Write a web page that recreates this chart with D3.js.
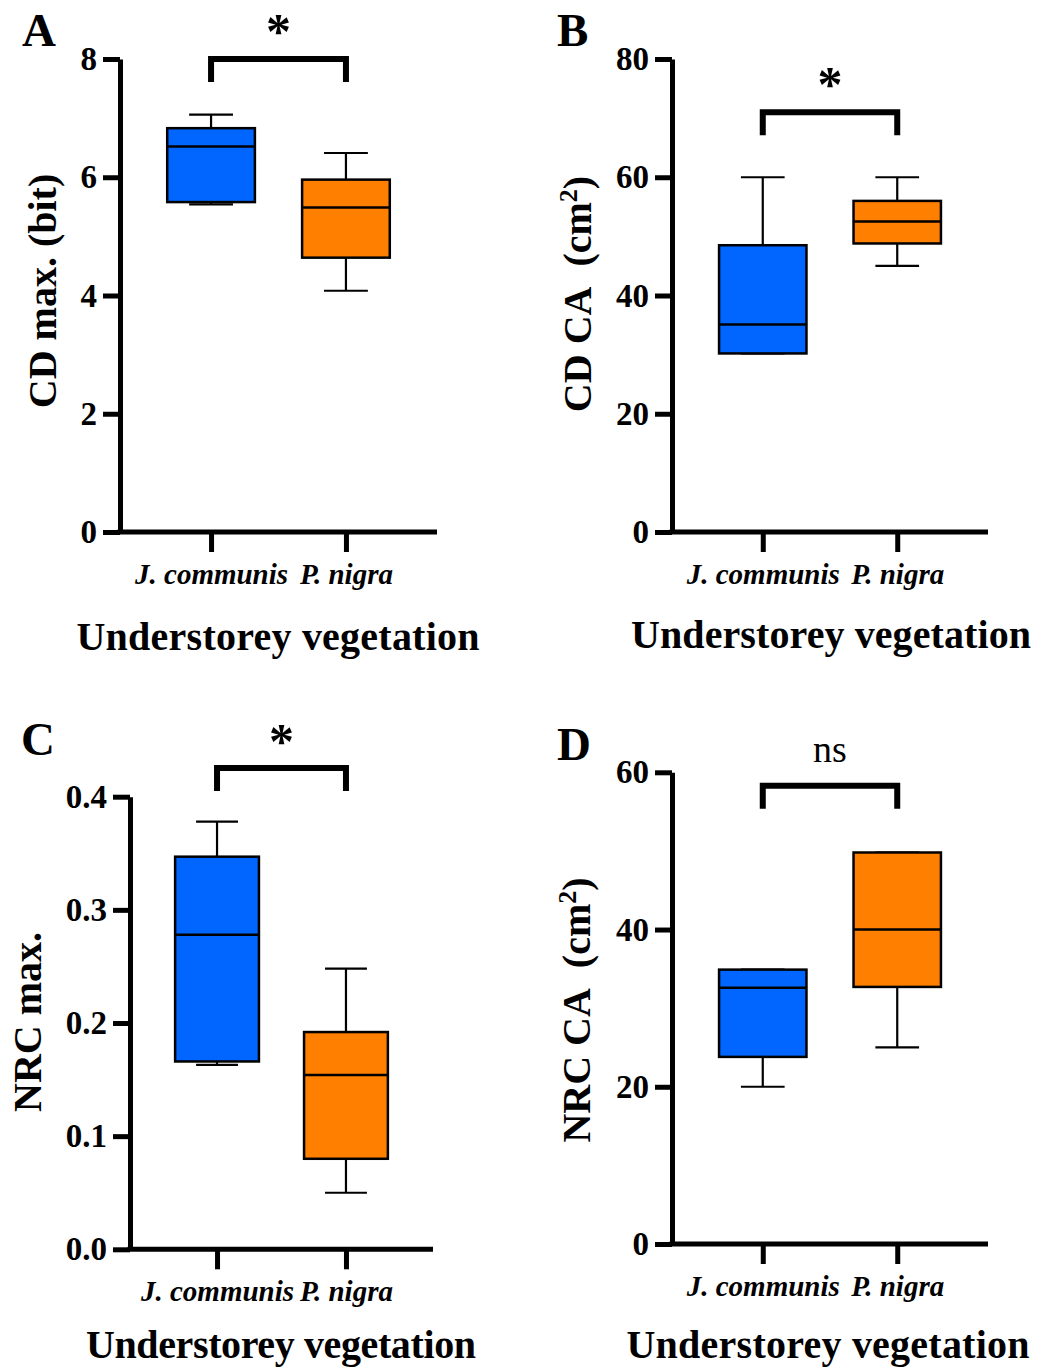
<!DOCTYPE html>
<html>
<head>
<meta charset="utf-8">
<script src="https://cdn.jsdelivr.net/npm/d3@7"></script>
<style>
  html, body { margin: 0; padding: 0; background: #fff; }
  svg { display: block; }
  text { font-family: "Liberation Serif", "Times New Roman", serif; }
</style>
</head>
<body>
<svg id="chart" width="1045" height="1369"></svg>
<script>
// ---------------- DATA ----------------
const categories = ["J. communis", "P. nigra"];
const seriesColors = ["#0066FF", "#FF8000"];

// five-number summaries per category: [min, q1, median, q3, max]
const cdMaxJ = [5.54, 5.58, 6.52, 6.83, 7.06];
const cdMaxP = [4.08, 4.64, 5.49, 5.96, 6.41];
const cdCaJ  = [30.2, 30.2, 35.1, 48.5, 60.0];
const cdCaP  = [45.0, 48.8, 52.5, 56.0, 60.0];
const nrcMaxJ = [0.163, 0.166, 0.278, 0.347, 0.378];
const nrcMaxP = [0.050, 0.080, 0.154, 0.192, 0.248];
const nrcCaJ = [20.0, 23.8, 32.6, 34.9, 34.9];
const nrcCaP = [25.0, 32.7, 40.0, 49.8, 49.8];

// y-axis tick labels
const ticksA = [0, 2, 4, 6, 8];
const ticksB = [0, 20, 40, 60, 80];
const ticksC = [0, 0.1, 0.2, 0.3, 0.4];
const ticksD = [0, 20, 40, 60];

const panelLetters = ["A", "B", "C", "D"];
const significance = ["*", "*", "*", "ns"];
const bracketLevels = [8.0, 71.0, 0.4254, 58.3];
const xTitle = "Understorey vegetation";

// ---------------- LAYOUT ----------------
const panels = [
  { letter: panelLetters[0], boxes: [cdMaxJ, cdMaxP], ticks: ticksA, fmt: d3.format("d"),
    yMax: 8, axisX: 120, axisEnd: 437, yTop: 59, yBottom: 532,
    letterPos: [22, 46], yLabel: [{t: "CD max. (bit)"}], yLabelPos: [56, 291], yLabelLen: 235,
    xTitlePos: [278, 650], xTitleLen: 403, sig: significance[0], sigY: 48, bracket: bracketLevels[0] },
  { letter: panelLetters[1], boxes: [cdCaJ, cdCaP], ticks: ticksB, fmt: d3.format("d"),
    yMax: 80, axisX: 672, axisEnd: 988, yTop: 59, yBottom: 532,
    letterPos: [557, 46], yLabel: [{t: "CD CA\u00a0\u00a0(cm"}, {t: "2", sup: true}, {t: ")"}], yLabelPos: [591, 294], yLabelLen: 228,
    xTitlePos: [831, 648], xTitleLen: 400, sig: significance[1], sigY: 101, bracket: bracketLevels[1] },
  { letter: panelLetters[2], boxes: [nrcMaxJ, nrcMaxP], ticks: ticksC, fmt: d3.format(".1f"),
    yMax: 0.4, axisX: 130, axisEnd: 433, yTop: 796.7, yBottom: 1249.3,
    letterPos: [21, 755], yLabel: [{t: "NRC max."}], yLabelPos: [41, 1022], yLabelLen: 165,
    xTitlePos: [281, 1358], xTitleLen: 390, sig: significance[2], sigY: 758, bracket: bracketLevels[2] },
  { letter: panelLetters[3], boxes: [nrcCaJ, nrcCaP], ticks: ticksD, fmt: d3.format("d"),
    yMax: 60, axisX: 672, axisEnd: 988, yTop: 772.3, yBottom: 1244,
    letterPos: [557, 760], yLabel: [{t: "NRC CA\u00a0\u00a0(cm"}, {t: "2", sup: true}, {t: ")"}], yLabelPos: [590, 1010], yLabelLen: 260,
    xTitlePos: [828, 1358], xTitleLen: 403, sig: significance[3], sigY: 762, bracket: bracketLevels[3] }
];

const svg = d3.select("#chart");

panels.forEach(p => {
  const g = svg.append("g");
  const y = d3.scaleLinear().domain([0, p.yMax]).range([p.yBottom, p.yTop]);
  const x = d3.scalePoint().domain(categories).range([p.axisX, p.axisEnd]).padding(0.675);
  const bw = x.step() * 0.65;

  // y axis
  const yAxis = d3.axisLeft(y).tickValues(p.ticks).tickFormat(p.fmt).tickSize(17).tickSizeOuter(0).tickPadding(6);
  const ya = g.append("g").attr("transform", `translate(${p.axisX},0)`).call(yAxis);
  ya.select(".domain").attr("stroke", "#000").attr("stroke-width", 5);
  ya.selectAll(".tick line").attr("stroke", "#000").attr("stroke-width", 5);
  ya.selectAll(".tick text").attr("fill", "#000").style("font-size", "33px").style("font-weight", "bold")
    .style("font-family", "'Liberation Serif', 'Times New Roman', serif");

  // x axis
  const xAxis = d3.axisBottom(x).tickSize(20).tickSizeOuter(0).tickPadding(11);
  const xa = g.append("g").attr("transform", `translate(0,${p.yBottom})`).call(xAxis);
  xa.select(".domain").attr("stroke", "#000").attr("stroke-width", 5).attr("d", `M${p.axisX - 2.5},0H${p.axisEnd}`);
  xa.selectAll(".tick line").attr("stroke", "#000").attr("stroke-width", 5);
  xa.selectAll(".tick text").attr("fill", "#000").style("font-size", "29px").style("font-weight", "bold")
    .style("font-style", "italic").style("font-family", "'Liberation Serif', 'Times New Roman', serif");

  // boxes
  p.boxes.forEach((s, i) => {
    const cx = x(categories[i]);
    const [mn, q1, md, q3, mx] = s;
    const bg = g.append("g");
    bg.append("line").attr("x1", cx).attr("x2", cx).attr("y1", y(q3)).attr("y2", y(mx))
      .attr("stroke", "#000").attr("stroke-width", 2.2);
    bg.append("line").attr("x1", cx).attr("x2", cx).attr("y1", y(q1)).attr("y2", y(mn))
      .attr("stroke", "#000").attr("stroke-width", 2.2);
    bg.append("line").attr("x1", cx - bw / 4).attr("x2", cx + bw / 4).attr("y1", y(mx)).attr("y2", y(mx))
      .attr("stroke", "#000").attr("stroke-width", 2.2);
    bg.append("line").attr("x1", cx - bw / 4).attr("x2", cx + bw / 4).attr("y1", y(mn)).attr("y2", y(mn))
      .attr("stroke", "#000").attr("stroke-width", 2.2);
    bg.append("rect").attr("x", cx - bw / 2).attr("width", bw)
      .attr("y", y(q3)).attr("height", y(q1) - y(q3))
      .attr("fill", seriesColors[i]).attr("stroke", "#000").attr("stroke-width", 2.5);
    bg.append("line").attr("x1", cx - bw / 2).attr("x2", cx + bw / 2).attr("y1", y(md)).attr("y2", y(md))
      .attr("stroke", "#000").attr("stroke-width", 2.5);
  });

  // significance bracket
  const bx1 = x(categories[0]), bx2 = x(categories[1]);
  const by = y(p.bracket);
  g.append("path")
    .attr("d", `M${bx1},${by + 23}V${by}H${bx2}V${by + 23}`)
    .attr("fill", "none").attr("stroke", "#000").attr("stroke-width", 6).attr("stroke-linejoin", "miter");
  const isStar = p.sig === "*";
  g.append("text").attr("x", (bx1 + bx2) / 2).attr("y", p.sigY)
    .attr("text-anchor", "middle")
    .style("font-size", isStar ? "50px" : "38px")
    .style("font-weight", isStar ? "bold" : "normal")
    .text(p.sig);

  // panel letter
  g.append("text").attr("x", p.letterPos[0]).attr("y", p.letterPos[1])
    .style("font-size", "47px").style("font-weight", "bold").text(p.letter);

  // y label
  const yl = g.append("text")
    .attr("transform", `translate(${p.yLabelPos[0]},${p.yLabelPos[1]}) rotate(-90)`)
    .attr("text-anchor", "middle")
    .style("font-size", "40px").style("font-weight", "bold");
  p.yLabel.forEach(part => {
    const ts = yl.append("tspan").text(part.t);
    if (part.sup) ts.attr("dy", "-0.55em").style("font-size", "26px");
    else if (part.t === ")") ts.attr("dy", "0.36em");
  });

  // x title
  g.append("text").attr("x", p.xTitlePos[0]).attr("y", p.xTitlePos[1])
    .attr("text-anchor", "middle")
    .attr("textLength", p.xTitleLen).attr("lengthAdjust", "spacing")
    .style("font-size", "40px").style("font-weight", "bold").text(xTitle);
});
</script>
</body>
</html>
